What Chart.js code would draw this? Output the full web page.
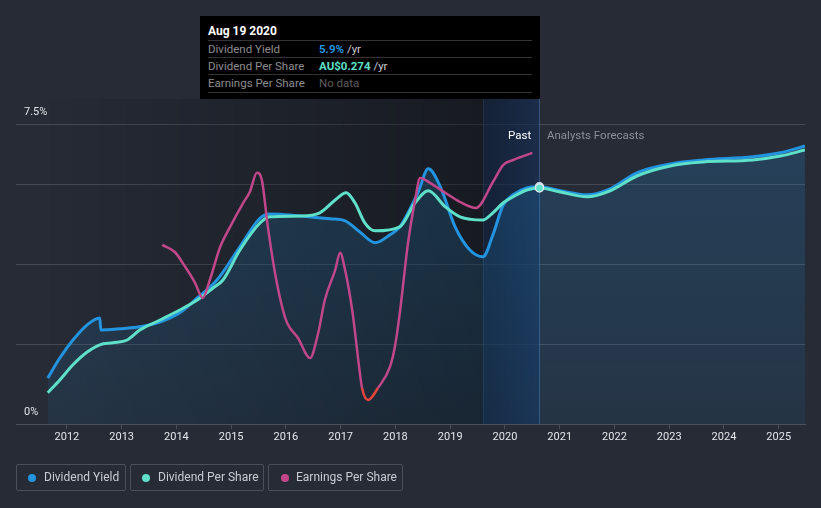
<!DOCTYPE html>
<html>
<head>
<meta charset="utf-8">
<script src="https://cdn.jsdelivr.net/npm/chart.js@4.4.1/dist/chart.umd.min.js"></script>
<style>
  body { margin: 0; background: #262b36; font-family: Roboto, "Noto Sans", sans-serif; }
  #wrap { position: relative; width: 821px; height: 508px; overflow: hidden; }
  #chart { position: absolute; left: 0; top: 0; }
  #tip { position: absolute; left: 200px; top: 16px; width: 340px; height: 83px; background: #000; }
  #tip .title { position: absolute; left: 8px; top: 8px; color: #fff; font-size: 12px; font-weight: bold; }
  #tip .row { position: absolute; left: 8px; width: 324px; height: 17px; border-top: 1px solid #333; font-size: 11.5px; line-height: 16px; }
  #tip .lab { position: absolute; left: 0; color: #8c8c8c; }
  #tip .val { position: absolute; left: 111px; color: #ccc; }
  .note { position: absolute; top: 128px; font-size: 11.5px; }
  #legend .item { position: absolute; top: 464px; height: 27px; border: 1px solid #4a505b; border-radius: 2px; box-sizing: border-box; color: #c9ccd3; font-size: 12px; line-height: 25px; }
  #legend .dot { position: absolute; top: 9px; width: 8px; height: 8px; border-radius: 50%; }
</style>
</head>
<body>
<div id="wrap">
  <canvas id="chart" width="821" height="508"></canvas>
  <div id="tip">
    <div class="title">Aug 19 2020</div>
    <div class="row" style="top:24px"><span class="lab">Dividend Yield</span><span class="val"><b style="color:#2394df">5.9%</b> /yr</span></div>
    <div class="row" style="top:41px"><span class="lab">Dividend Per Share</span><span class="val"><b style="color:#5fe0c9">AU$0.274</b> /yr</span></div>
    <div class="row" style="top:58px; border-bottom:1px solid #333"><span class="lab">Earnings Per Share</span><span class="val" style="color:#5c5c5c">No data</span></div>
  </div>
  <div class="note" style="left:508px; color:#fff">Past</div>
  <div class="note" style="left:547px; color:#8a8f99">Analysts Forecasts</div>
  <div id="legend">
    <div class="item" style="left:16px; width:110px"><span class="dot" style="left:11px; background:#2394df"></span><span style="position:absolute; left:27px">Dividend Yield</span></div>
    <div class="item" style="left:130px; width:134px"><span class="dot" style="left:11px; background:#5fe0c9"></span><span style="position:absolute; left:27px">Dividend Per Share</span></div>
    <div class="item" style="left:268px; width:135px"><span class="dot" style="left:12px; background:#c2478a"></span><span style="position:absolute; left:27px">Earnings Per Share</span></div>
  </div>
</div>
<script>
// Values (x in decimal years, y in % on the left axis)
const yieldYears = [2011.65, 2011.87, 2012.11, 2012.37, 2012.60, 2012.62, 2012.97, 2013.33, 2013.70, 2014.06, 2014.38, 2014.74, 2015.16, 2015.53, 2015.71, 2016.26, 2016.81, 2017.08, 2017.35, 2017.63, 2017.90, 2018.08, 2018.41, 2018.60, 2018.82, 2019.09, 2019.36, 2019.60, 2019.78, 2019.97, 2020.15, 2020.40, 2020.63, 2021.01, 2021.50, 2021.92, 2022.41, 2023.02, 2023.62, 2024.53, 2025.03, 2025.48];
const yieldValues = [1.15, 1.65, 2.10, 2.48, 2.65, 2.35, 2.38, 2.43, 2.55, 2.78, 3.15, 3.60, 4.43, 5.15, 5.25, 5.20, 5.13, 5.08, 4.80, 4.53, 4.73, 4.93, 5.78, 6.38, 5.93, 4.93, 4.35, 4.18, 4.73, 5.48, 5.73, 5.90, 5.93, 5.83, 5.73, 5.88, 6.28, 6.50, 6.60, 6.68, 6.78, 6.95];

const dpsYears = [2011.65, 2011.87, 2012.11, 2012.37, 2012.60, 2012.84, 2013.10, 2013.33, 2013.70, 2014.06, 2014.38, 2014.67, 2014.85, 2015.16, 2015.53, 2015.71, 2016.26, 2016.62, 2016.90, 2017.10, 2017.26, 2017.44, 2017.63, 2018.08, 2018.36, 2018.60, 2018.91, 2019.18, 2019.60, 2019.78, 2019.97, 2020.15, 2020.40, 2020.63, 2021.01, 2021.50, 2021.92, 2022.41, 2023.02, 2023.62, 2024.53, 2025.03, 2025.48];
const dpsValues = [0.78, 1.10, 1.48, 1.80, 1.98, 2.03, 2.10, 2.35, 2.60, 2.85, 3.10, 3.40, 3.60, 4.35, 5.03, 5.18, 5.20, 5.28, 5.60, 5.78, 5.53, 5.03, 4.83, 4.93, 5.53, 5.83, 5.43, 5.18, 5.10, 5.28, 5.53, 5.68, 5.85, 5.90, 5.80, 5.68, 5.83, 6.20, 6.45, 6.55, 6.60, 6.70, 6.85];

const epsYears = [2013.74, 2013.97, 2014.16, 2014.34, 2014.48, 2014.61, 2014.80, 2014.98, 2015.22, 2015.34, 2015.47, 2015.56, 2015.67, 2015.80, 2015.93, 2016.02, 2016.22, 2016.44, 2016.59, 2016.71, 2016.90, 2016.99, 2017.08, 2017.21, 2017.35, 2017.39, 2017.50, 2017.68, 2017.90, 2017.99, 2018.08, 2018.23, 2018.36, 2018.45, 2018.63, 2018.91, 2019.18, 2019.47, 2019.78, 2019.97, 2020.15, 2020.50];
const epsValues = [4.48, 4.30, 3.93, 3.53, 3.15, 3.60, 4.43, 4.93, 5.53, 5.80, 6.28, 6.10, 4.93, 3.78, 2.93, 2.53, 2.15, 1.65, 2.28, 3.10, 3.85, 4.28, 3.85, 2.85, 1.28, 0.90, 0.60, 0.90, 1.43, 1.93, 2.78, 4.53, 5.60, 6.15, 6.03, 5.78, 5.55, 5.40, 6.05, 6.48, 6.60, 6.78];

const tickYears = [2012, 2013, 2014, 2015, 2016, 2017, 2018, 2019, 2020, 2021, 2022, 2023, 2024, 2025];
const yTicks = [0, 2, 4, 6, 7.5];
const nowDate = 2020.63;     // Aug 19 2020
const pastStart = 2019.6;    // start of highlighted "Past" band
const epsLow = 0.9;

const toPoints = (xs, ys) => xs.map((x, i) => ({ x: x, y: ys[i] }));

// Background shading for the past region, the highlight band and the "now" line
const shading = {
    id: 'shading',
    beforeDatasetsDraw(chart) {
        const { ctx, chartArea, scales } = chart;
        const x0 = scales.x.getPixelForValue(yieldYears[0]);
        const xb = Math.round(scales.x.getPixelForValue(pastStart));
        const xn = Math.round(scales.x.getPixelForValue(nowDate));
        const top = 99, bottom = chartArea.bottom;
        ctx.save();
        let g = ctx.createLinearGradient(x0, 0, xb, 0);
        g.addColorStop(0, 'rgba(0,0,0,0)');
        g.addColorStop(1, 'rgba(0,0,0,0.38)');
        ctx.fillStyle = g;
        ctx.fillRect(x0, top, xb - x0, bottom - top);
        g = ctx.createLinearGradient(xb, 0, xn, 0);
        g.addColorStop(0, 'rgba(10,28,54,0.6)');
        g.addColorStop(1, 'rgba(22,46,83,0.7)');
        ctx.fillStyle = g;
        ctx.fillRect(xb, top, xn - xb, bottom - top);
        ctx.lineWidth = 1;
        ctx.strokeStyle = 'rgba(60,90,130,0.3)';
        ctx.beginPath();
        ctx.moveTo(xb + 0.5, top);
        ctx.lineTo(xb + 0.5, bottom);
        ctx.stroke();
        ctx.strokeStyle = 'rgba(70,120,180,0.55)';
        ctx.beginPath();
        ctx.moveTo(xn + 0.5, top);
        ctx.lineTo(xn + 0.5, bottom);
        ctx.stroke();
        ctx.restore();
    }
};

const markerRadius = c => (c.raw && c.raw.x === nowDate ? 4 : 0);

new Chart(document.getElementById('chart'), {
    type: 'line',
    data: {
        datasets: [
            {
                label: 'Earnings Per Share',
                data: toPoints(epsYears, epsValues),
                borderColor: '#c2478a',
                borderWidth: 2.5,
                pointRadius: 0,
                cubicInterpolationMode: 'monotone',
                segment: {
                    borderColor: c => (Math.min(c.p0.parsed.y, c.p1.parsed.y) < epsLow ? '#e8453c' : undefined)
                },
                order: 1
            },
            {
                label: 'Dividend Per Share',
                data: toPoints(dpsYears, dpsValues),
                borderColor: '#5fe0c9',
                borderWidth: 3,
                pointRadius: markerRadius,
                pointBackgroundColor: '#5fe0c9',
                pointBorderColor: '#dde6f0',
                pointBorderWidth: 1.5,
                cubicInterpolationMode: 'monotone',
                order: 2
            },
            {
                label: 'Dividend Yield',
                data: toPoints(yieldYears, yieldValues),
                borderColor: '#2394df',
                borderWidth: 3,
                pointRadius: markerRadius,
                pointBackgroundColor: '#2394df',
                pointBorderColor: '#dde6f0',
                pointBorderWidth: 1.5,
                cubicInterpolationMode: 'monotone',
                fill: 'origin',
                backgroundColor: function(context) {
                    const area = context.chart.chartArea;
                    if (!area) return 'rgba(35,148,223,0.15)';
                    const g = context.chart.ctx.createLinearGradient(0, area.top, 0, area.bottom);
                    g.addColorStop(0, 'rgba(35,148,223,0.22)');
                    g.addColorStop(1, 'rgba(35,148,223,0.09)');
                    return g;
                },
                order: 3
            }
        ]
    },
    options: {
        responsive: false,
        animation: false,
        layout: { padding: { top: 124, left: 16, right: 16, bottom: 54 } },
        plugins: { legend: { display: false }, tooltip: { enabled: false } },
        scales: {
            x: {
                type: 'linear',
                min: 2011.07,
                max: 2025.48,
                afterBuildTicks: scale => { scale.ticks = tickYears.map(v => ({ value: v })); },
                afterFit: scale => { scale.height = 30; },
                grid: { drawOnChartArea: false, drawTicks: true, tickLength: 5, color: '#4b505a' },
                border: { color: '#4b505a' },
                ticks: {
                    color: '#e4e6ea',
                    font: { family: 'Roboto', size: 11 },
                    padding: 2,
                    maxRotation: 0,
                    callback: v => String(v)
                }
            },
            y: {
                min: 0,
                max: 7.5,
                afterBuildTicks: scale => { scale.ticks = yTicks.map(v => ({ value: v })); },
                afterFit: scale => { scale.width = 0; },
                grid: { color: 'rgba(255,255,255,0.14)', drawTicks: false },
                border: { display: false },
                ticks: {
                    mirror: true,
                    padding: 8,
                    labelOffset: -12,
                    color: '#e4e6ea',
                    font: { family: 'Roboto', size: 11 },
                    callback: v => (v === 0 ? '0%' : v === 7.5 ? '7.5%' : '')
                }
            }
        }
    },
    plugins: [shading]
});
</script>
</body>
</html>
